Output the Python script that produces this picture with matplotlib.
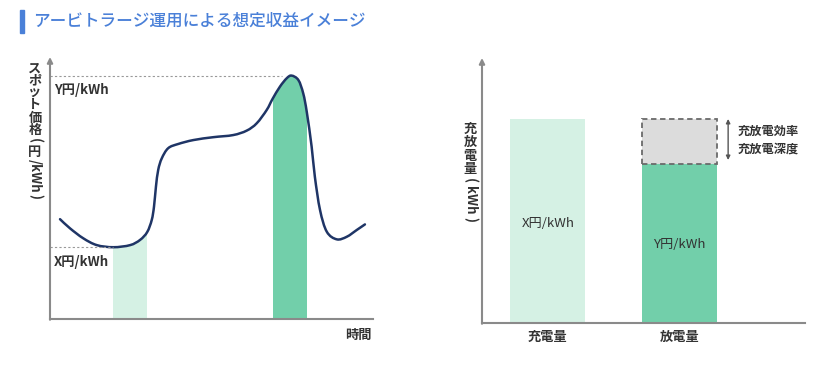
import matplotlib.pyplot as plt
from matplotlib.path import Path
from matplotlib.patches import PathPatch

plt.rcParams['font.family'] = ['Noto Sans CJK JP', 'DejaVu Sans']

# スポット価格の推移 (時間, 価格) -- 任意単位
time = [3.1, 6.2, 10.3, 14.5, 19.6, 24.8, 27.9, 30.1, 31.5, 32.2, 32.8, 33.5,
        34.6, 36.6, 39.7, 44.4, 50.6, 56.7, 60.9, 64.0, 67.1, 68.9, 71.2, 73.3,
        74.8, 76.9, 78.4, 79.5, 81.0, 82.0, 83.6, 85.7, 88.8, 91.9, 95.0, 97.5]
price = [38.1, 34.6, 30.8, 28.2, 27.4, 28.2, 30.2, 33.2, 37.8, 42.9, 50.5, 56.9,
         61.3, 65.2, 66.8, 68.3, 69.4, 70.2, 71.9, 74.7, 79.8, 84.0, 88.7, 91.9,
         92.9, 91.2, 86.1, 79.0, 65.8, 54.3, 41.6, 33.3, 30.4, 31.4, 34.0, 36.1]
charge_window = (19.6, 30.1)
discharge_window = (68.9, 79.5)

# 充放電量
bar_labels = ['充電量', '放電量']
charge_kwh = 77.0
discharge_kwh = 60.0
loss_kwh = charge_kwh - discharge_kwh
bar_texts = ['X円/kWh', 'Y円/kWh']

NAVY = '#1f3566'
LIGHT = '#d5f1e4'
GREEN = '#72cfaa'
AXC = '#8a8a8a'
TXT = '#333333'
W, H = 840, 371

fig = plt.figure(figsize=(8.4, 3.71), dpi=100)


def px(x, y):
    return x / W, 1 - y / H


def smooth_path(xs, ys):
    # Catmull-Rom -> ベジェ曲線 (点はそのまま通る)
    pts = list(zip(xs, ys))
    verts = [pts[0]]
    codes = [Path.MOVETO]
    for i in range(len(pts) - 1):
        p0 = pts[i - 1] if i > 0 else pts[i]
        p1, p2 = pts[i], pts[i + 1]
        p3 = pts[i + 2] if i + 2 < len(pts) else pts[i + 1]
        c1 = (p1[0] + (p2[0] - p0[0]) / 6, p1[1] + (p2[1] - p0[1]) / 6)
        c2 = (p2[0] - (p3[0] - p1[0]) / 6, p2[1] - (p3[1] - p1[1]) / 6)
        verts += [c1, c2, p2]
        codes += [Path.CURVE4] * 3
    return verts, codes


def vertical_label(x, y, pieces):
    # 縦書きラベル: (文字, 回転, 送り幅px)
    for s, rot, adv in pieces:
        fx, fy = px(x, y + adv / 2)
        fig.text(fx, fy, s, rotation=rot, ha='center', va='center',
                 fontsize=9.5, fontweight='bold', color=TXT)
        y += adv


def style_axes(ax):
    for s in ['top', 'right', 'left']:
        ax.spines[s].set_visible(False)
    ax.spines['bottom'].set_color(AXC)
    ax.spines['bottom'].set_linewidth(1.5)
    ax.set_xticks([])
    ax.set_yticks([])
    ax.annotate('', xy=(0, 1), xytext=(0, -0.003), xycoords='axes fraction',
                arrowprops=dict(arrowstyle='-|>', color=AXC, lw=1.5,
                                mutation_scale=8, shrinkA=0, shrinkB=0))


# タイトル
fig.patches.append(plt.Rectangle(px(20, 33), 4 / W, 23 / H, color='#4a80d8',
                                 transform=fig.transFigure, figure=fig))
fig.text(*px(33, 21), 'アービトラージ運用による想定収益イメージ', fontsize=12,
         color='#4a80d8', va='center', ha='left', fontweight='medium')

# 左: スポット価格
ax1 = fig.add_axes([50 / W, 1 - 319 / H, 323 / W, 262 / H])
style_axes(ax1)
ax1.set_xlim(0, 100)
ax1.set_ylim(0, 100)

lo, hi = min(price), max(price)
t_lo = time[price.index(lo)]
t_hi = time[price.index(hi)]
ax1.hlines(lo, 0, t_lo, color='#999999', lw=0.8, linestyles=(0, (2, 2)))
ax1.hlines(hi, 0, t_hi - 3, color='#999999', lw=0.8, linestyles=(0, (2, 2)))

verts, codes = smooth_path(time, price)
# 曲線の下の領域 (帯の切り抜き用)
under = Path(verts + [(time[-1], 0), (time[0], 0), verts[0]],
             codes + [Path.LINETO, Path.LINETO, Path.CLOSEPOLY])
under_patch = PathPatch(under, transform=ax1.transData, visible=False)
ax1.add_patch(under_patch)
for (a, b), col in [(charge_window, LIGHT), (discharge_window, GREEN)]:
    span = ax1.axvspan(a, b, color=col, lw=0)
    span.set_clip_path(under_patch)
ax1.add_patch(PathPatch(Path(verts, codes), facecolor='none', edgecolor=NAVY,
                        lw=1.8, capstyle='round'))

ax1.text(1.2, lo - 2.8, 'X円/kWh', fontsize=9.5, fontweight='bold', color=TXT, va='top')
ax1.text(1.2, hi - 2.8, 'Y円/kWh', fontsize=9.5, fontweight='bold', color=TXT, va='top')
fig.text(*px(358, 335), '時間', fontsize=9.5, fontweight='bold', color=TXT,
         ha='center', va='center')

vertical_label(35, 62, [(c, 0, 12.4) for c in 'スポット価格'] +
               [('(', -90, 9), ('円', 0, 13), ('/kWh', -90, 34), (')', -90, 9)])

# 右: 充放電量
ax2 = fig.add_axes([482 / W, 1 - 323 / H, 323 / W, 265 / H])
style_axes(ax2)
ax2.set_xlim(-0.5, 1.95)
ax2.set_ylim(0, 100)

bw = 0.57
ax2.bar(0, charge_kwh, width=bw, color=LIGHT)
ax2.bar(1, discharge_kwh, width=bw, color=GREEN)
ax2.bar(1, loss_kwh, bottom=discharge_kwh, width=bw, color='#dcdcdc',
        edgecolor='#6a6a6a', linestyle=(0, (3, 2)), linewidth=1.3)

ax2.text(0, 37.7, bar_texts[0], fontsize=9.5, color=TXT, ha='center', va='center')
ax2.text(1, 29.8, bar_texts[1], fontsize=9.5, color=TXT, ha='center', va='center')

ax2.annotate('', xy=(1.367, charge_kwh), xytext=(1.367, discharge_kwh + 1.5),
             arrowprops=dict(arrowstyle='<|-|>', color='#555555', lw=1.0,
                             mutation_scale=6, shrinkA=0, shrinkB=0))
ax2.text(1.436, (charge_kwh + discharge_kwh) / 2 + 0.5, '充放電効率\n充放電深度',
         fontsize=8.8, fontweight='bold', color=TXT, va='center', ha='left',
         linespacing=1.5)

for i, lab in enumerate(bar_labels):
    ax2.text(i, -5.3, lab, fontsize=9.5, fontweight='bold', color=TXT,
             ha='center', va='center')

vertical_label(470, 122, [(c, 0, 13.5) for c in '充放電量'] +
               [('(', -90, 9), ('kWh', -90, 30), (')', -90, 9)])

fig.savefig('out.png', dpi=100, facecolor='white')
